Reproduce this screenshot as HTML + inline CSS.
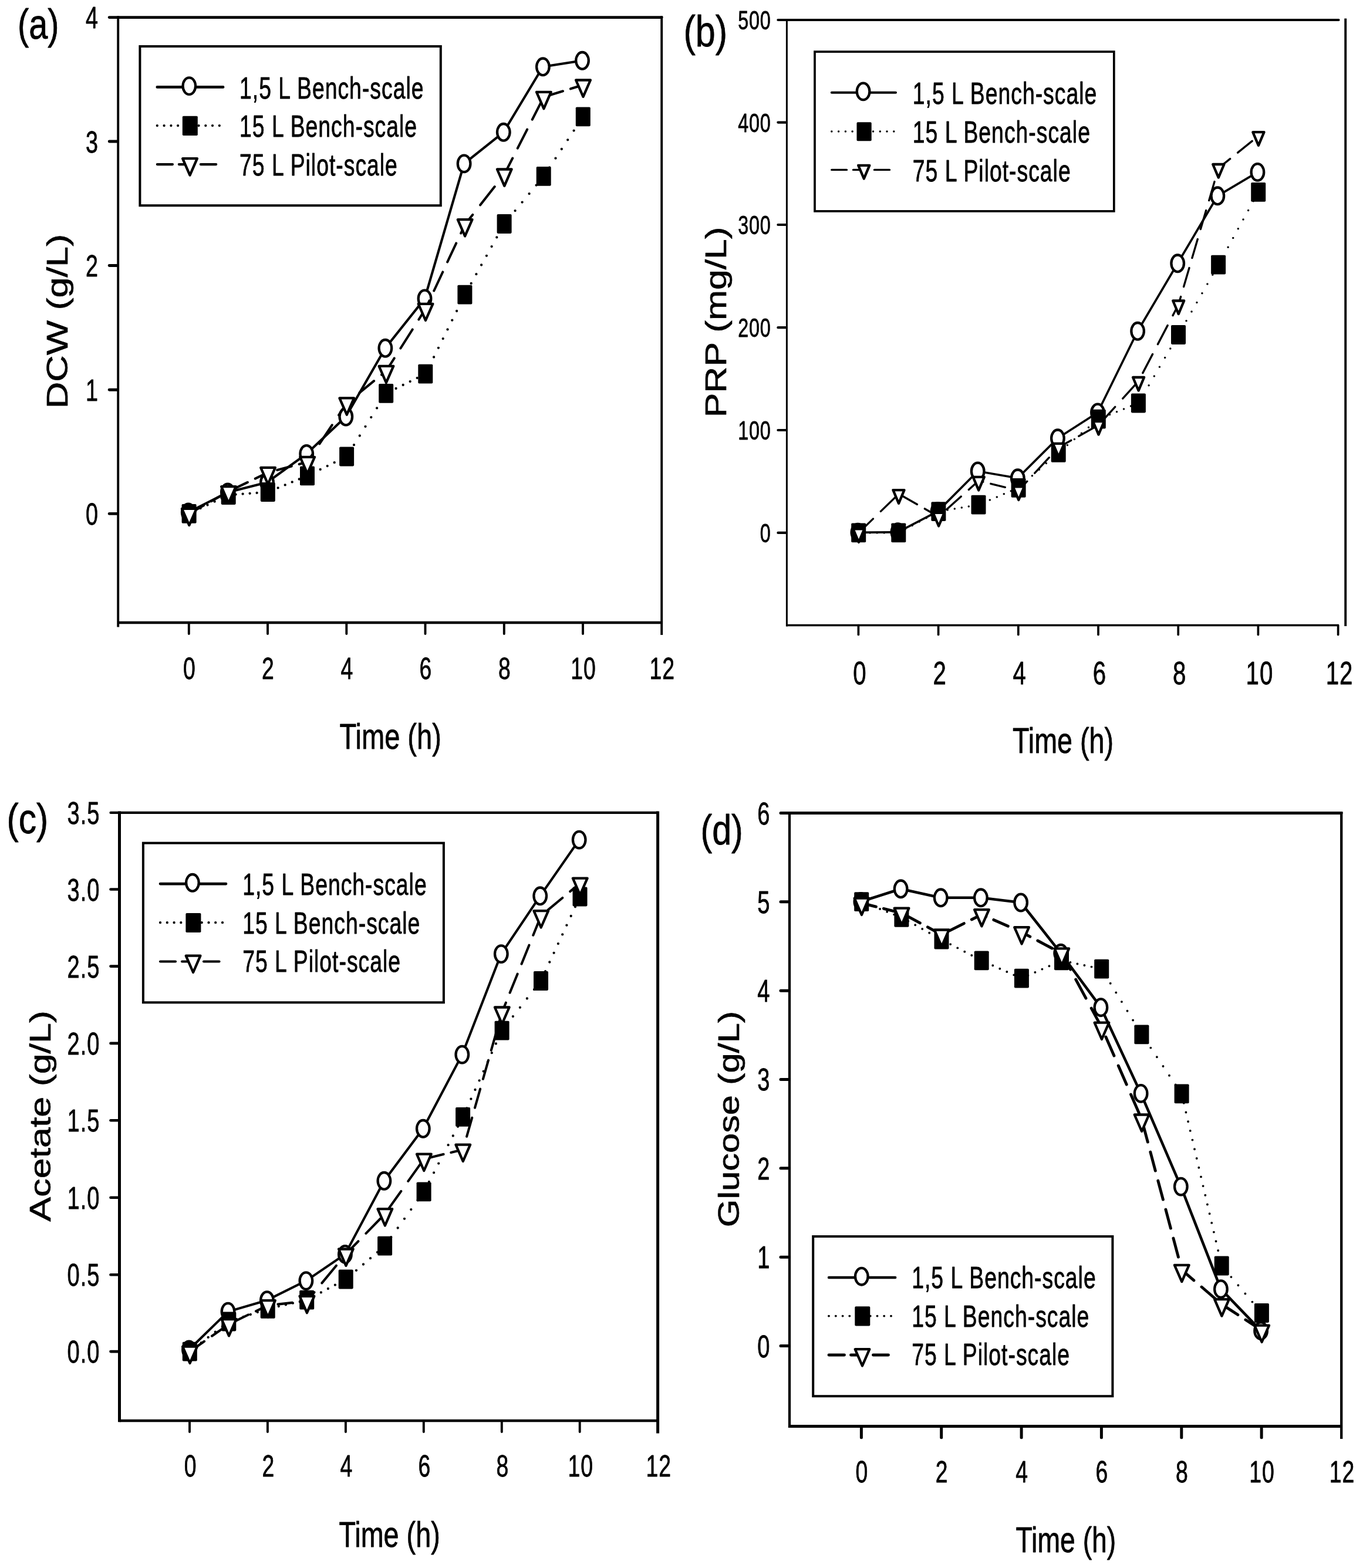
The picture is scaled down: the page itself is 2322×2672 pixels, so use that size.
<!DOCTYPE html>
<html lang="en"><head><meta charset="utf-8"><title>Fermentation scale-up profiles</title>
<style>html,body{margin:0;padding:0;background:#fff}svg{display:block}text{font-family:"Liberation Sans", Arial, Helvetica, sans-serif;fill:#000;stroke:#000;stroke-width:0.8px;stroke-linejoin:round}</style>
</head><body>
<svg width="2322" height="2672" viewBox="0 0 2322 2672" shape-rendering="geometricPrecision">
<rect x="0" y="0" width="2322" height="2672" fill="#fff"/>
<g>
<g stroke="#000" fill="none">
<line x1="201.2" y1="27.2" x2="201.2" y2="1068.5" stroke-width="3.9" stroke-linecap="butt"/>
<line x1="1127.2" y1="27.2" x2="1127.2" y2="1082" stroke-width="3.9" stroke-linecap="butt"/>
<line x1="186.2" y1="29.6" x2="1127.2" y2="29.6" stroke-width="4.9" stroke-linecap="round"/>
<line x1="201.2" y1="1061" x2="1127.2" y2="1061" stroke-width="4.4" stroke-linecap="butt"/>
<path d="M186.2 241H200.4" stroke-width="4.9" stroke-linecap="round"/>
<path d="M186.2 452.5H200.4" stroke-width="4.9" stroke-linecap="round"/>
<path d="M186.2 664.3H200.4" stroke-width="4.9" stroke-linecap="round"/>
<path d="M186.2 875.4H200.4" stroke-width="4.9" stroke-linecap="round"/>
<path d="M321.8 1061V1080" stroke-width="3.9" stroke-linecap="round"/>
<path d="M456 1061V1080" stroke-width="3.9" stroke-linecap="round"/>
<path d="M590.3 1061V1080" stroke-width="3.9" stroke-linecap="round"/>
<path d="M724.5 1061V1080" stroke-width="3.9" stroke-linecap="round"/>
<path d="M858.8 1061V1080" stroke-width="3.9" stroke-linecap="round"/>
<path d="M993 1061V1080" stroke-width="3.9" stroke-linecap="round"/>
</g>
<g>
<text transform="translate(168,48.4) scale(0.718,1)" font-size="52.5" text-anchor="end" letter-spacing="1.4">4</text>
<text transform="translate(168,259.8) scale(0.718,1)" font-size="52.5" text-anchor="end" letter-spacing="1.4">3</text>
<text transform="translate(168,471.3) scale(0.718,1)" font-size="52.5" text-anchor="end" letter-spacing="1.4">2</text>
<text transform="translate(168,683.1) scale(0.718,1)" font-size="52.5" text-anchor="end" letter-spacing="1.4">1</text>
<text transform="translate(168,894.2) scale(0.718,1)" font-size="52.5" text-anchor="end" letter-spacing="1.4">0</text>
<text transform="translate(322.8,1157) scale(0.718,1)" font-size="52" text-anchor="middle" letter-spacing="1.4">0</text>
<text transform="translate(457,1157) scale(0.718,1)" font-size="52" text-anchor="middle" letter-spacing="1.4">2</text>
<text transform="translate(591.3,1157) scale(0.718,1)" font-size="52" text-anchor="middle" letter-spacing="1.4">4</text>
<text transform="translate(725.5,1157) scale(0.718,1)" font-size="52" text-anchor="middle" letter-spacing="1.4">6</text>
<text transform="translate(859.8,1157) scale(0.718,1)" font-size="52" text-anchor="middle" letter-spacing="1.4">8</text>
<text transform="translate(994,1157) scale(0.718,1)" font-size="52" text-anchor="middle" letter-spacing="1.4">10</text>
<text transform="translate(1128.2,1157) scale(0.718,1)" font-size="52" text-anchor="middle" letter-spacing="1.4">12</text>
<text transform="translate(578.5,1276) scale(0.765,1)" font-size="61.5" text-anchor="start">Time (h)</text>
<text transform="translate(115.3,547.6) scale(0.78,1) rotate(-90)" font-size="63" text-anchor="middle" xml:space="preserve">DCW (g/L)</text>
<text transform="translate(30,66) scale(0.8,1)" font-size="72" text-anchor="start">(a)</text>
</g>
<g stroke="#000" fill="none">
<polyline points="320.8,873 387.9,839 455,822 522.2,773.4 589.3,710 656.4,593.3 723.5,508.9 790.6,278.9 857.8,225.3 924.9,113.8 992,103.3" fill="none" stroke-width="4.1" stroke-linejoin="round" stroke-linecap="round"/>
<ellipse cx="320.8" cy="873" rx="10.8" ry="14.3" fill="#fff" stroke-width="4.3"/>
<ellipse cx="387.9" cy="839" rx="10.8" ry="14.3" fill="#fff" stroke-width="4.3"/>
<ellipse cx="455" cy="822" rx="10.8" ry="14.3" fill="#fff" stroke-width="4.3"/>
<ellipse cx="522.2" cy="773.4" rx="10.8" ry="14.3" fill="#fff" stroke-width="4.3"/>
<ellipse cx="589.3" cy="710" rx="10.8" ry="14.3" fill="#fff" stroke-width="4.3"/>
<ellipse cx="656.4" cy="593.3" rx="10.8" ry="14.3" fill="#fff" stroke-width="4.3"/>
<ellipse cx="723.5" cy="508.9" rx="10.8" ry="14.3" fill="#fff" stroke-width="4.3"/>
<ellipse cx="790.6" cy="278.9" rx="10.8" ry="14.3" fill="#fff" stroke-width="4.3"/>
<ellipse cx="857.8" cy="225.3" rx="10.8" ry="14.3" fill="#fff" stroke-width="4.3"/>
<ellipse cx="924.9" cy="113.8" rx="10.8" ry="14.3" fill="#fff" stroke-width="4.3"/>
<ellipse cx="992" cy="103.3" rx="10.8" ry="14.3" fill="#fff" stroke-width="4.3"/>
<path d="M329.5 871.9h0M341.5 866.2h0M353.5 860.5h0M365.6 854.7h0M377.6 849h0M389.6 843.5h0M401.6 842.6h0M413.6 841.7h0M425.6 840.8h0M437.6 839.9h0M449.6 839h0M461.6 836.3h0M473.6 831.4h0M485.7 826.4h0M497.7 821.4h0M509.7 816.5h0M521.7 811.5h0M533.7 805.8h0M545.7 799.9h0M557.7 794.1h0M569.7 788.2h0M581.7 782.3h0M593.2 773.9h0M603 758.2h0M612.8 742.5h0M622.5 726.8h0M632.3 711.1h0M642.1 695.4h0M651.9 679.7h0M662.6 668h0M674.6 662h0M686.7 656h0M698.7 650.1h0M710.7 644.1h0M722.7 638.2h0M731.2 624.2h0M739.1 608.5h0M746.9 592.8h0M754.7 577.1h0M762.5 561.4h0M770.3 545.7h0M778.1 530h0M785.9 514.3h0M793.9 498.6h0M802.7 482.9h0M811.4 467.2h0M820.1 451.5h0M828.9 435.8h0M837.6 420.1h0M846.3 404.4h0M855.1 388.7h0M865.6 373.6h0M877.6 359.1h0M889.6 344.6h0M901.6 330.1h0M913.6 315.6h0M925.6 301.1h0M936.1 285.4h0M946.5 269.7h0M956.8 254h0M967.2 238.3h0M977.6 222.6h0M988 206.9h0" fill="none" stroke-width="4.3" stroke-linecap="round"/>
<rect x="309.6" y="859" width="25" height="32.8" rx="1.8" fill="#000" stroke="none"/>
<rect x="376.7" y="827.1" width="25" height="32.8" rx="1.8" fill="#000" stroke="none"/>
<rect x="443.8" y="822.1" width="25" height="32.8" rx="1.8" fill="#000" stroke="none"/>
<rect x="511" y="794.4" width="25" height="32.8" rx="1.8" fill="#000" stroke="none"/>
<rect x="578.1" y="761.6" width="25" height="32.8" rx="1.8" fill="#000" stroke="none"/>
<rect x="645.2" y="654" width="25" height="32.8" rx="1.8" fill="#000" stroke="none"/>
<rect x="712.3" y="620.7" width="25" height="32.8" rx="1.8" fill="#000" stroke="none"/>
<rect x="779.4" y="485.8" width="25" height="32.8" rx="1.8" fill="#000" stroke="none"/>
<rect x="846.6" y="365.1" width="25" height="32.8" rx="1.8" fill="#000" stroke="none"/>
<rect x="913.7" y="284" width="25" height="32.8" rx="1.8" fill="#000" stroke="none"/>
<rect x="980.8" y="182.5" width="25" height="32.8" rx="1.8" fill="#000" stroke="none"/>
<path d="M322.3 875.2L346.8 861.5M359.8 854.1L384.3 840.4M397.3 833.7L421.8 821.9M434.8 815.7L456.5 805.2M456.5 805.2L459.2 804.5M472.2 801L496.7 794.4M509.7 790.9L523.7 787.1M523.7 787.1L532.9 773.3M544.3 756.3L565.7 724.3M577.1 707.3L590.8 686.8M590.8 686.8L599.6 679.7M612.6 669.1L637.1 649.2M650.1 638.6L657.9 632.2M657.9 632.2L671.7 610.5M682.4 593.5L702.7 561.5M713.4 544.5L725 526.1M725 526.1L731.4 512.5M739.3 495.5L754.3 463.5M762.2 446.5L777.2 414.5M785.2 397.5L792.1 382.5M792.1 382.5L805.2 365.9M818.2 349.3L842.7 318.1M855.7 301.5L859.3 296.9M859.3 296.9L873.2 269.6M881.8 252.6L898.1 220.6M906.8 203.6L923.1 171.6M934.5 162.7L959 155.3M972 151.3L993.5 144.8" fill="none" stroke-width="4.1" stroke-linecap="round"/>
<path d="M309.9 866.9L334.7 866.9L322.3 895.1Z" fill="#fff" stroke-width="4.3" stroke-linejoin="round"/>
<path d="M377.1 829.1L401.8 829.1L389.4 857.4Z" fill="#fff" stroke-width="4.3" stroke-linejoin="round"/>
<path d="M444.2 796.9L468.9 796.9L456.5 825.1Z" fill="#fff" stroke-width="4.3" stroke-linejoin="round"/>
<path d="M511.3 778.8L536 778.8L523.7 807Z" fill="#fff" stroke-width="4.3" stroke-linejoin="round"/>
<path d="M578.4 678.4L603.1 678.4L590.8 706.7Z" fill="#fff" stroke-width="4.3" stroke-linejoin="round"/>
<path d="M645.6 623.9L670.3 623.9L657.9 652.1Z" fill="#fff" stroke-width="4.3" stroke-linejoin="round"/>
<path d="M712.7 517.8L737.4 517.8L725 546Z" fill="#fff" stroke-width="4.3" stroke-linejoin="round"/>
<path d="M779.8 374.1L804.5 374.1L792.1 402.4Z" fill="#fff" stroke-width="4.3" stroke-linejoin="round"/>
<path d="M846.9 288.5L871.6 288.5L859.3 316.8Z" fill="#fff" stroke-width="4.3" stroke-linejoin="round"/>
<path d="M914 156.8L938.7 156.8L926.4 185.2Z" fill="#fff" stroke-width="4.3" stroke-linejoin="round"/>
<path d="M981.1 136.5L1005.9 136.5L993.5 164.8Z" fill="#fff" stroke-width="4.3" stroke-linejoin="round"/>
</g>
<g stroke="#000" fill="none">
<rect x="238.4" y="79" width="512.4" height="271.2" fill="#fff" stroke-width="4"/>
<line x1="267.8" y1="148.4" x2="380.1" y2="148.4" stroke-width="4.6" stroke-linecap="round"/>
<ellipse cx="322.3" cy="146.6" rx="10.8" ry="14.3" fill="#fff" stroke-width="4.3"/>
<path d="M267.8 214.1h0M279.6 214.1h0M291.4 214.1h0M303.1 214.1h0M314.9 214.1h0M326.7 214.1h0M338.5 214.1h0M350.3 214.1h0M362 214.1h0M373.8 214.1h0" fill="none" stroke-width="4.3" stroke-linecap="round"/>
<rect x="310.8" y="197.8" width="26" height="33.2" rx="1.8" fill="#000" stroke="none"/>
<line x1="267.8" y1="280.1" x2="294" y2="280.1" stroke-width="4.1" stroke-linecap="round"/>
<line x1="304.8" y1="280.1" x2="316" y2="280.1" stroke-width="4.1" stroke-linecap="round"/>
<line x1="341.8" y1="280.1" x2="368.2" y2="280.1" stroke-width="4.1" stroke-linecap="round"/>
<path d="M311.1 270.2L335.9 270.2L323.5 298.6Z" fill="#fff" stroke-width="4.3" stroke-linejoin="round"/>
</g>
<g>
<text transform="translate(408,167.6) scale(0.718,1)" font-size="52" text-anchor="start" letter-spacing="1.4">1,5 L Bench-scale</text>
<text transform="translate(408,233.3) scale(0.718,1)" font-size="52" text-anchor="start" letter-spacing="1.4">15 L Bench-scale</text>
<text transform="translate(408,299.3) scale(0.718,1)" font-size="52" text-anchor="start" letter-spacing="1.4">75 L Pilot-scale</text>
</g>
</g>
<g>
<g stroke="#000" fill="none">
<line x1="1340.4" y1="31.9" x2="1340.4" y2="1067.6" stroke-width="3" stroke-linecap="butt"/>
<line x1="2292.2" y1="31.5" x2="2292.2" y2="1067" stroke-width="3.9" stroke-linecap="butt"/>
<line x1="1325.4" y1="34" x2="2280.5" y2="34" stroke-width="4.2" stroke-linecap="round"/>
<line x1="1340.4" y1="1065.5" x2="2280.5" y2="1065.5" stroke-width="3.6" stroke-linecap="butt"/>
<path d="M1325.4 208.6H1339.5" stroke-width="4.2" stroke-linecap="round"/>
<path d="M1325.4 383H1339.5" stroke-width="4.2" stroke-linecap="round"/>
<path d="M1325.4 558.2H1339.5" stroke-width="4.2" stroke-linecap="round"/>
<path d="M1325.4 733H1339.5" stroke-width="4.2" stroke-linecap="round"/>
<path d="M1325.4 907.9H1339.5" stroke-width="4.2" stroke-linecap="round"/>
<path d="M1462.4 1065.5V1081.5" stroke-width="3.7" stroke-linecap="round"/>
<path d="M1598.6 1065.5V1081.5" stroke-width="3.7" stroke-linecap="round"/>
<path d="M1734.8 1065.5V1081.5" stroke-width="3.7" stroke-linecap="round"/>
<path d="M1871 1065.5V1081.5" stroke-width="3.7" stroke-linecap="round"/>
<path d="M2007.2 1065.5V1081.5" stroke-width="3.7" stroke-linecap="round"/>
<path d="M2143.4 1065.5V1081.5" stroke-width="3.7" stroke-linecap="round"/>
<path d="M2279.6 1065.5V1081.5" stroke-width="3.7" stroke-linecap="round"/>
</g>
<g>
<text transform="translate(1313.7,50.1) scale(0.718,1)" font-size="45" text-anchor="end" letter-spacing="1.2">500</text>
<text transform="translate(1313.7,224.7) scale(0.718,1)" font-size="45" text-anchor="end" letter-spacing="1.2">400</text>
<text transform="translate(1313.7,399.1) scale(0.718,1)" font-size="45" text-anchor="end" letter-spacing="1.2">300</text>
<text transform="translate(1313.7,574.3) scale(0.718,1)" font-size="45" text-anchor="end" letter-spacing="1.2">200</text>
<text transform="translate(1313.7,749.1) scale(0.718,1)" font-size="45" text-anchor="end" letter-spacing="1.2">100</text>
<text transform="translate(1313.7,924) scale(0.718,1)" font-size="45" text-anchor="end" letter-spacing="1.2">0</text>
<text transform="translate(1464.9,1165.8) scale(0.718,1)" font-size="56" text-anchor="middle" letter-spacing="1.5">0</text>
<text transform="translate(1601.1,1165.8) scale(0.718,1)" font-size="56" text-anchor="middle" letter-spacing="1.5">2</text>
<text transform="translate(1737.3,1165.8) scale(0.718,1)" font-size="56" text-anchor="middle" letter-spacing="1.5">4</text>
<text transform="translate(1873.5,1165.8) scale(0.718,1)" font-size="56" text-anchor="middle" letter-spacing="1.5">6</text>
<text transform="translate(2009.7,1165.8) scale(0.718,1)" font-size="56" text-anchor="middle" letter-spacing="1.5">8</text>
<text transform="translate(2145.9,1165.8) scale(0.718,1)" font-size="56" text-anchor="middle" letter-spacing="1.5">10</text>
<text transform="translate(2282.1,1165.8) scale(0.718,1)" font-size="56" text-anchor="middle" letter-spacing="1.5">12</text>
<text transform="translate(1725,1282.9) scale(0.765,1)" font-size="61" text-anchor="start">Time (h)</text>
<text transform="translate(1236.8,548.9) scale(0.8,1) rotate(-90)" font-size="62.4" text-anchor="middle" xml:space="preserve">PRP (mg/L)</text>
<text transform="translate(1164.5,79) scale(0.82,1)" font-size="74.5" text-anchor="start">(b)</text>
</g>
<g stroke="#000" fill="none">
<polyline points="1461.4,907.3 1529.5,906.8 1597.6,871.4 1665.7,803 1733.8,814.8 1801.9,746.8 1870,703 1938.1,564.3 2006.2,448.8 2074.3,333.8 2142.4,293.4" fill="none" stroke-width="3.7" stroke-linejoin="round" stroke-linecap="round"/>
<ellipse cx="1461.4" cy="907.3" rx="10.8" ry="14.3" fill="#fff" stroke-width="4.3"/>
<ellipse cx="1529.5" cy="906.8" rx="10.8" ry="14.3" fill="#fff" stroke-width="4.3"/>
<ellipse cx="1597.6" cy="871.4" rx="10.8" ry="14.3" fill="#fff" stroke-width="4.3"/>
<ellipse cx="1665.7" cy="803" rx="10.8" ry="14.3" fill="#fff" stroke-width="4.3"/>
<ellipse cx="1733.8" cy="814.8" rx="10.8" ry="14.3" fill="#fff" stroke-width="4.3"/>
<ellipse cx="1801.9" cy="746.8" rx="10.8" ry="14.3" fill="#fff" stroke-width="4.3"/>
<ellipse cx="1870" cy="703" rx="10.8" ry="14.3" fill="#fff" stroke-width="4.3"/>
<ellipse cx="1938.1" cy="564.3" rx="10.8" ry="14.3" fill="#fff" stroke-width="4.3"/>
<ellipse cx="2006.2" cy="448.8" rx="10.8" ry="14.3" fill="#fff" stroke-width="4.3"/>
<ellipse cx="2074.3" cy="333.8" rx="10.8" ry="14.3" fill="#fff" stroke-width="4.3"/>
<ellipse cx="2142.4" cy="293.4" rx="10.8" ry="14.3" fill="#fff" stroke-width="4.3"/>
<path d="M1470.1 907.9h0M1482.1 907.9h0M1494.1 907.9h0M1506.2 907.9h0M1518.2 907.9h0M1530.2 907.9h0M1542.2 901.8h0M1554.2 895.5h0M1566.2 889.1h0M1578.2 882.7h0M1590.2 876.3h0M1602.2 871.1h0M1614.2 869.1h0M1626.3 867h0M1638.3 865h0M1650.3 862.9h0M1662.3 860.9h0M1674.3 857h0M1686.3 851.9h0M1698.3 846.9h0M1710.3 841.8h0M1722.3 836.7h0M1734.4 831.6h0M1746.4 821.4h0M1758.4 810.8h0M1770.4 800.2h0M1782.4 789.6h0M1794.4 779h0M1806.4 768.6h0M1818.4 758.5h0M1830.4 748.4h0M1842.4 738.3h0M1854.5 728.2h0M1866.5 718.2h0M1878.5 711.2h0M1890.5 706.5h0M1902.5 701.7h0M1914.5 696.9h0M1926.5 692.1h0M1938.5 687.3h0M1947.9 672.4h0M1957.1 656.7h0M1966.3 641h0M1975.4 625.3h0M1984.6 609.6h0M1993.8 593.9h0M2003 578.2h0M2012 562.5h0M2021 546.8h0M2030 531.1h0M2038.9 515.4h0M2047.9 499.7h0M2056.9 484h0M2065.8 468.3h0M2074.8 452.6h0M2083.4 436.9h0M2092.1 421.2h0M2100.7 405.5h0M2109.3 389.8h0M2118 374.1h0M2126.6 358.4h0M2135.2 342.7h0" fill="none" stroke-width="3.5" stroke-linecap="round"/>
<rect x="1450.2" y="891.5" width="25" height="32.8" rx="1.8" fill="#000" stroke="none"/>
<rect x="1518.3" y="891.5" width="25" height="32.8" rx="1.8" fill="#000" stroke="none"/>
<rect x="1586.4" y="855.3" width="25" height="32.8" rx="1.8" fill="#000" stroke="none"/>
<rect x="1654.5" y="843.7" width="25" height="32.8" rx="1.8" fill="#000" stroke="none"/>
<rect x="1722.6" y="814.9" width="25" height="32.8" rx="1.8" fill="#000" stroke="none"/>
<rect x="1790.7" y="754.9" width="25" height="32.8" rx="1.8" fill="#000" stroke="none"/>
<rect x="1858.8" y="697.7" width="25" height="32.8" rx="1.8" fill="#000" stroke="none"/>
<rect x="1926.9" y="670.6" width="25" height="32.8" rx="1.8" fill="#000" stroke="none"/>
<rect x="1995" y="554.1" width="25" height="32.8" rx="1.8" fill="#000" stroke="none"/>
<rect x="2063.1" y="434.8" width="25" height="32.8" rx="1.8" fill="#000" stroke="none"/>
<rect x="2131.2" y="310.9" width="25" height="32.8" rx="1.8" fill="#000" stroke="none"/>
<path d="M1462.9 907.9L1487.4 884.1M1500.4 871.4L1524.9 847.6M1537.9 845.5L1562.4 859.5M1575.4 866.9L1599.1 880.4M1599.1 880.4L1599.8 879.7M1612.8 868.1L1637.3 846.1M1650.3 834.4L1667.2 819.2M1667.2 819.2L1674.8 821.1M1687.8 824.3L1712.3 830.3M1725.3 833.4L1735.3 835.9M1735.3 835.9L1749.8 820.2M1762.8 806.2L1787.3 779.7M1800.3 765.6L1803.4 762.2M1803.4 762.2L1824.7 750.4M1837.8 743.2L1862.2 729.6M1875.2 720.4L1899.7 693.4M1912.7 679.1L1937.2 652.1M1946.8 635.6L1963.5 603.6M1972.4 586.6L1989.1 554.6M1998 537.6L2007.7 519M2007.7 519L2011.6 505.6M2016.6 488.6L2026 456.6M2030.9 439.6L2040.3 407.6M2045.3 390.6L2054.7 358.6M2059.7 341.6L2069 309.6M2074 292.6L2075.8 286.5M2075.8 286.5L2095.6 270.6M2108.6 260.1L2133.1 240.4" fill="none" stroke-width="3.4" stroke-linecap="round"/>
<path d="M1453.4 901.4L1472.5 901.4L1462.9 924Z" fill="#fff" stroke-width="4.3" stroke-linejoin="round"/>
<path d="M1521.5 835.1L1540.5 835.1L1531 857.8Z" fill="#fff" stroke-width="4.3" stroke-linejoin="round"/>
<path d="M1589.6 873.9L1608.7 873.9L1599.1 896.5Z" fill="#fff" stroke-width="4.3" stroke-linejoin="round"/>
<path d="M1657.7 812.8L1676.8 812.8L1667.2 835.4Z" fill="#fff" stroke-width="4.3" stroke-linejoin="round"/>
<path d="M1725.8 829.4L1744.9 829.4L1735.3 852Z" fill="#fff" stroke-width="4.3" stroke-linejoin="round"/>
<path d="M1793.9 755.8L1813 755.8L1803.4 778.4Z" fill="#fff" stroke-width="4.3" stroke-linejoin="round"/>
<path d="M1862 718L1881 718L1871.5 740.6Z" fill="#fff" stroke-width="4.3" stroke-linejoin="round"/>
<path d="M1930 643L1949.1 643L1939.6 665.6Z" fill="#fff" stroke-width="4.3" stroke-linejoin="round"/>
<path d="M1998.2 512.5L2017.2 512.5L2007.7 535.1Z" fill="#fff" stroke-width="4.3" stroke-linejoin="round"/>
<path d="M2066.2 280L2085.4 280L2075.8 302.6Z" fill="#fff" stroke-width="4.3" stroke-linejoin="round"/>
<path d="M2134.3 225.2L2153.5 225.2L2143.9 247.8Z" fill="#fff" stroke-width="4.3" stroke-linejoin="round"/>
</g>
<g stroke="#000" fill="none">
<rect x="1388" y="88.1" width="509.8" height="271.8" fill="#fff" stroke-width="3.7"/>
<line x1="1416.8" y1="157.7" x2="1526" y2="157.7" stroke-width="4" stroke-linecap="round"/>
<ellipse cx="1470.6" cy="155.9" rx="10.8" ry="14.3" fill="#fff" stroke-width="4.3"/>
<path d="M1416.8 223.9h0M1428.6 223.9h0M1440.4 223.9h0M1452.1 223.9h0M1463.9 223.9h0M1475.7 223.9h0M1487.5 223.9h0M1499.3 223.9h0M1511 223.9h0M1522.8 223.9h0" fill="none" stroke-width="3.5" stroke-linecap="round"/>
<rect x="1459.5" y="208.2" width="25.2" height="32" rx="1.8" fill="#000" stroke="none"/>
<line x1="1416.8" y1="289.4" x2="1442.5" y2="289.4" stroke-width="3.4" stroke-linecap="round"/>
<line x1="1453.5" y1="289.4" x2="1465" y2="289.4" stroke-width="3.4" stroke-linecap="round"/>
<line x1="1489.5" y1="289.4" x2="1515.5" y2="289.4" stroke-width="3.4" stroke-linecap="round"/>
<path d="M1462.2 281.8L1481.3 281.8L1471.8 304.4Z" fill="#fff" stroke-width="4.3" stroke-linejoin="round"/>
</g>
<g>
<text transform="translate(1554.8,176.9) scale(0.718,1)" font-size="52" text-anchor="start" letter-spacing="1.4">1,5 L Bench-scale</text>
<text transform="translate(1554.8,243.4) scale(0.718,1)" font-size="52" text-anchor="start" letter-spacing="1.4">15 L Bench-scale</text>
<text transform="translate(1554.8,308.6) scale(0.718,1)" font-size="52" text-anchor="start" letter-spacing="1.4">75 L Pilot-scale</text>
</g>
</g>
<g>
<g stroke="#000" fill="none">
<line x1="203.5" y1="1382.6" x2="203.5" y2="2423.3" stroke-width="5" stroke-linecap="butt"/>
<line x1="1120.6" y1="1382.6" x2="1120.6" y2="2442.5" stroke-width="5" stroke-linecap="butt"/>
<line x1="188.5" y1="1384.9" x2="1120.6" y2="1384.9" stroke-width="4.2" stroke-linecap="round"/>
<line x1="203.5" y1="2421" x2="1120.6" y2="2421" stroke-width="4.3" stroke-linecap="butt"/>
<path d="M188.5 1515.5H203.4" stroke-width="4.6" stroke-linecap="round"/>
<path d="M188.5 1646.6H203.4" stroke-width="4.6" stroke-linecap="round"/>
<path d="M188.5 1777.9H203.4" stroke-width="4.6" stroke-linecap="round"/>
<path d="M188.5 1909.2H203.4" stroke-width="4.6" stroke-linecap="round"/>
<path d="M188.5 2040.7H203.4" stroke-width="4.6" stroke-linecap="round"/>
<path d="M188.5 2172.2H203.4" stroke-width="4.6" stroke-linecap="round"/>
<path d="M188.5 2303.1H203.4" stroke-width="4.6" stroke-linecap="round"/>
<path d="M323 2421V2440" stroke-width="3.9" stroke-linecap="round"/>
<path d="M455.9 2421V2440" stroke-width="3.9" stroke-linecap="round"/>
<path d="M588.9 2421V2440" stroke-width="3.9" stroke-linecap="round"/>
<path d="M721.8 2421V2440" stroke-width="3.9" stroke-linecap="round"/>
<path d="M854.8 2421V2440" stroke-width="3.9" stroke-linecap="round"/>
<path d="M987.7 2421V2440" stroke-width="3.9" stroke-linecap="round"/>
</g>
<g>
<text transform="translate(170.5,1403.7) scale(0.718,1)" font-size="53" text-anchor="end" letter-spacing="1.4">3.5</text>
<text transform="translate(170.5,1534.5) scale(0.718,1)" font-size="53" text-anchor="end" letter-spacing="1.4">3.0</text>
<text transform="translate(170.5,1665.6) scale(0.718,1)" font-size="53" text-anchor="end" letter-spacing="1.4">2.5</text>
<text transform="translate(170.5,1796.9) scale(0.718,1)" font-size="53" text-anchor="end" letter-spacing="1.4">2.0</text>
<text transform="translate(170.5,1928.2) scale(0.718,1)" font-size="53" text-anchor="end" letter-spacing="1.4">1.5</text>
<text transform="translate(170.5,2059.7) scale(0.718,1)" font-size="53" text-anchor="end" letter-spacing="1.4">1.0</text>
<text transform="translate(170.5,2191.2) scale(0.718,1)" font-size="53" text-anchor="end" letter-spacing="1.4">0.5</text>
<text transform="translate(170.5,2322.1) scale(0.718,1)" font-size="53" text-anchor="end" letter-spacing="1.4">0.0</text>
<text transform="translate(324.6,2516.2) scale(0.718,1)" font-size="52" text-anchor="middle" letter-spacing="1.4">0</text>
<text transform="translate(457.5,2516.2) scale(0.718,1)" font-size="52" text-anchor="middle" letter-spacing="1.4">2</text>
<text transform="translate(590.5,2516.2) scale(0.718,1)" font-size="52" text-anchor="middle" letter-spacing="1.4">4</text>
<text transform="translate(723.4,2516.2) scale(0.718,1)" font-size="52" text-anchor="middle" letter-spacing="1.4">6</text>
<text transform="translate(856.4,2516.2) scale(0.718,1)" font-size="52" text-anchor="middle" letter-spacing="1.4">8</text>
<text transform="translate(989.3,2516.2) scale(0.718,1)" font-size="52" text-anchor="middle" letter-spacing="1.4">10</text>
<text transform="translate(1122.2,2516.2) scale(0.718,1)" font-size="52" text-anchor="middle" letter-spacing="1.4">12</text>
<text transform="translate(577.5,2636.3) scale(0.76,1)" font-size="61.5" text-anchor="start">Time (h)</text>
<text transform="translate(86,1901.9) scale(0.8,1) rotate(-90)" font-size="62.8" text-anchor="middle" xml:space="preserve">Acetate (g/L)</text>
<text transform="translate(11.5,1420) scale(0.83,1)" font-size="73" text-anchor="start">(c)</text>
</g>
<g stroke="#000" fill="none">
<polyline points="322,2300 388.5,2235.1 454.9,2215.7 521.4,2182.6 587.9,2137.4 654.4,2012.3 720.8,1923.3 787.3,1797.1 853.8,1625.6 920.2,1526.8 986.7,1431.1" fill="none" stroke-width="4.1" stroke-linejoin="round" stroke-linecap="round"/>
<ellipse cx="322" cy="2300" rx="10.8" ry="14.3" fill="#fff" stroke-width="4.3"/>
<ellipse cx="388.5" cy="2235.1" rx="10.8" ry="14.3" fill="#fff" stroke-width="4.3"/>
<ellipse cx="454.9" cy="2215.7" rx="10.8" ry="14.3" fill="#fff" stroke-width="4.3"/>
<ellipse cx="521.4" cy="2182.6" rx="10.8" ry="14.3" fill="#fff" stroke-width="4.3"/>
<ellipse cx="587.9" cy="2137.4" rx="10.8" ry="14.3" fill="#fff" stroke-width="4.3"/>
<ellipse cx="654.4" cy="2012.3" rx="10.8" ry="14.3" fill="#fff" stroke-width="4.3"/>
<ellipse cx="720.8" cy="1923.3" rx="10.8" ry="14.3" fill="#fff" stroke-width="4.3"/>
<ellipse cx="787.3" cy="1797.1" rx="10.8" ry="14.3" fill="#fff" stroke-width="4.3"/>
<ellipse cx="853.8" cy="1625.6" rx="10.8" ry="14.3" fill="#fff" stroke-width="4.3"/>
<ellipse cx="920.2" cy="1526.8" rx="10.8" ry="14.3" fill="#fff" stroke-width="4.3"/>
<ellipse cx="986.7" cy="1431.1" rx="10.8" ry="14.3" fill="#fff" stroke-width="4.3"/>
<path d="M330.7 2297.4h0M342.7 2288.2h0M354.7 2278.9h0M366.8 2269.7h0M378.8 2260.5h0M390.8 2251.7h0M402.8 2247.8h0M414.8 2243.9h0M426.8 2240h0M438.8 2236.1h0M450.8 2232.2h0M462.8 2228.9h0M474.8 2226.1h0M486.9 2223.4h0M498.9 2220.7h0M510.9 2217.9h0M522.9 2215.1h0M534.9 2208.7h0M546.9 2202.4h0M558.9 2196h0M570.9 2189.7h0M582.9 2183.3h0M595 2175.1h0M607 2164.8h0M619 2154.5h0M631 2144.2h0M643 2133.9h0M655 2123.7h0M666.3 2108.2h0M677.7 2092.5h0M689 2076.8h0M700.3 2061.1h0M711.6 2045.4h0M722.7 2029.7h0M730.9 2014h0M739.1 1998.3h0M747.2 1982.6h0M755.4 1966.9h0M763.6 1951.2h0M771.8 1935.5h0M780 1919.8h0M788.2 1904.1h0M795.3 1888.4h0M802.4 1872.7h0M809.5 1857h0M816.6 1841.3h0M823.7 1825.6h0M830.8 1809.9h0M837.8 1794.2h0M844.9 1778.5h0M852 1762.8h0M861.9 1747.4h0M873.9 1732.1h0M885.9 1716.8h0M897.9 1701.5h0M910 1686.2h0M921.8 1670.9h0M929.1 1655.2h0M936.3 1639.5h0M943.6 1623.8h0M950.9 1608.1h0M958.2 1592.4h0M965.4 1576.7h0M972.7 1561h0M980 1545.3h0M987.2 1529.6h0" fill="none" stroke-width="4.3" stroke-linecap="round"/>
<rect x="310.8" y="2286.7" width="25" height="32.8" rx="1.8" fill="#000" stroke="none"/>
<rect x="377.3" y="2235.6" width="25" height="32.8" rx="1.8" fill="#000" stroke="none"/>
<rect x="443.7" y="2214" width="25" height="32.8" rx="1.8" fill="#000" stroke="none"/>
<rect x="510.2" y="2198.8" width="25" height="32.8" rx="1.8" fill="#000" stroke="none"/>
<rect x="576.7" y="2163.6" width="25" height="32.8" rx="1.8" fill="#000" stroke="none"/>
<rect x="643.1" y="2106.7" width="25" height="32.8" rx="1.8" fill="#000" stroke="none"/>
<rect x="709.6" y="2014.4" width="25" height="32.8" rx="1.8" fill="#000" stroke="none"/>
<rect x="776.1" y="1887" width="25" height="32.8" rx="1.8" fill="#000" stroke="none"/>
<rect x="842.6" y="1739.7" width="25" height="32.8" rx="1.8" fill="#000" stroke="none"/>
<rect x="909" y="1655.1" width="25" height="32.8" rx="1.8" fill="#000" stroke="none"/>
<rect x="975.5" y="1511.6" width="25" height="32.8" rx="1.8" fill="#000" stroke="none"/>
<path d="M323.5 2303L348 2285.8M361 2276.7L385.5 2259.6M398.5 2252.3L422.9 2240.5M436 2234.3L456.4 2224.4M456.4 2224.4L460.4 2224M473.4 2222.6L497.9 2219.9M510.9 2218.5L522.9 2217.2M522.9 2217.2L535.4 2202.1M548.4 2186.4L572.9 2156.7M585.9 2141L589.4 2136.8M589.4 2136.8L610.4 2115.2M623.4 2101.9L647.9 2076.7M660.5 2061.9L683.3 2029.9M695.3 2012.9L718.1 1980.9M730.8 1973L755.3 1967M768.3 1963.9L788.8 1958.9M788.8 1958.9L790.3 1953.7M795.1 1936.7L804.2 1904.7M809 1887.7L818.1 1855.7M822.9 1838.7L832 1806.7M836.8 1789.7L845.9 1757.7M850.7 1740.7L855.3 1724.8M855.3 1724.8L861.8 1708.7M868.6 1691.7L881.6 1659.7M888.5 1642.7L901.4 1610.7M908.3 1593.7L921.2 1561.7M933.8 1550.4L958.3 1530M971.3 1519.1L988.2 1505" fill="none" stroke-width="4.1" stroke-linecap="round"/>
<path d="M311.1 2294.7L335.9 2294.7L323.5 2323Z" fill="#fff" stroke-width="4.3" stroke-linejoin="round"/>
<path d="M377.6 2248.1L402.3 2248.1L390 2276.4Z" fill="#fff" stroke-width="4.3" stroke-linejoin="round"/>
<path d="M444.1 2216.1L468.8 2216.1L456.4 2244.4Z" fill="#fff" stroke-width="4.3" stroke-linejoin="round"/>
<path d="M510.6 2208.8L535.3 2208.8L522.9 2237.2Z" fill="#fff" stroke-width="4.3" stroke-linejoin="round"/>
<path d="M577 2128.5L601.7 2128.5L589.4 2156.8Z" fill="#fff" stroke-width="4.3" stroke-linejoin="round"/>
<path d="M643.5 2060.2L668.2 2060.2L655.9 2088.5Z" fill="#fff" stroke-width="4.3" stroke-linejoin="round"/>
<path d="M710 1966.7L734.7 1966.7L722.3 1995Z" fill="#fff" stroke-width="4.3" stroke-linejoin="round"/>
<path d="M776.4 1950.6L801.1 1950.6L788.8 1978.9Z" fill="#fff" stroke-width="4.3" stroke-linejoin="round"/>
<path d="M842.9 1716.5L867.6 1716.5L855.3 1744.8Z" fill="#fff" stroke-width="4.3" stroke-linejoin="round"/>
<path d="M909.4 1552.2L934.1 1552.2L921.7 1580.5Z" fill="#fff" stroke-width="4.3" stroke-linejoin="round"/>
<path d="M975.9 1496.7L1000.6 1496.7L988.2 1525Z" fill="#fff" stroke-width="4.3" stroke-linejoin="round"/>
</g>
<g stroke="#000" fill="none">
<rect x="243.9" y="1436.6" width="512" height="271.7" fill="#fff" stroke-width="4"/>
<line x1="273" y1="1506.1" x2="385" y2="1506.1" stroke-width="4.6" stroke-linecap="round"/>
<ellipse cx="327.9" cy="1504.3" rx="10.8" ry="14.3" fill="#fff" stroke-width="4.3"/>
<path d="M273 1572.2h0M284.8 1572.2h0M296.6 1572.2h0M308.3 1572.2h0M320.1 1572.2h0M331.9 1572.2h0M343.7 1572.2h0M355.5 1572.2h0M367.2 1572.2h0M379 1572.2h0" fill="none" stroke-width="4.3" stroke-linecap="round"/>
<rect x="316.4" y="1555.9" width="26" height="33.2" rx="1.8" fill="#000" stroke="none"/>
<line x1="273" y1="1638.5" x2="299" y2="1638.5" stroke-width="4.1" stroke-linecap="round"/>
<line x1="310" y1="1638.5" x2="321" y2="1638.5" stroke-width="4.1" stroke-linecap="round"/>
<line x1="347" y1="1638.5" x2="373.5" y2="1638.5" stroke-width="4.1" stroke-linecap="round"/>
<path d="M316.7 1628.7L341.4 1628.7L329.1 1657Z" fill="#fff" stroke-width="4.3" stroke-linejoin="round"/>
</g>
<g>
<text transform="translate(413.2,1525.3) scale(0.718,1)" font-size="52" text-anchor="start" letter-spacing="1.4">1,5 L Bench-scale</text>
<text transform="translate(413.2,1591.4) scale(0.718,1)" font-size="52" text-anchor="start" letter-spacing="1.4">15 L Bench-scale</text>
<text transform="translate(413.2,1656.4) scale(0.718,1)" font-size="52" text-anchor="start" letter-spacing="1.4">75 L Pilot-scale</text>
</g>
</g>
<g>
<g stroke="#000" fill="none">
<line x1="1345" y1="1383" x2="1345" y2="2432.9" stroke-width="4.3" stroke-linecap="butt"/>
<line x1="2285.2" y1="1383" x2="2285.2" y2="2451.9" stroke-width="4.3" stroke-linecap="butt"/>
<line x1="1330" y1="1385.5" x2="2285.2" y2="1385.5" stroke-width="5" stroke-linecap="round"/>
<line x1="1345" y1="2430.4" x2="2285.2" y2="2430.4" stroke-width="5" stroke-linecap="butt"/>
<path d="M1330 1536.8H1344.4" stroke-width="5" stroke-linecap="round"/>
<path d="M1330 1688.2H1344.4" stroke-width="5" stroke-linecap="round"/>
<path d="M1330 1839.4H1344.4" stroke-width="5" stroke-linecap="round"/>
<path d="M1330 1990.8H1344.4" stroke-width="5" stroke-linecap="round"/>
<path d="M1330 2142.2H1344.4" stroke-width="5" stroke-linecap="round"/>
<path d="M1330 2293.5H1344.4" stroke-width="5" stroke-linecap="round"/>
<path d="M1467.4 2430.4V2449.8" stroke-width="5" stroke-linecap="round"/>
<path d="M1603.7 2430.4V2449.8" stroke-width="5" stroke-linecap="round"/>
<path d="M1740.1 2430.4V2449.8" stroke-width="5" stroke-linecap="round"/>
<path d="M1876.4 2430.4V2449.8" stroke-width="5" stroke-linecap="round"/>
<path d="M2012.8 2430.4V2449.8" stroke-width="5" stroke-linecap="round"/>
<path d="M2149.1 2430.4V2449.8" stroke-width="5" stroke-linecap="round"/>
</g>
<g>
<text transform="translate(1312.3,1404.5) scale(0.718,1)" font-size="53" text-anchor="end" letter-spacing="1.4">6</text>
<text transform="translate(1312.3,1555.8) scale(0.718,1)" font-size="53" text-anchor="end" letter-spacing="1.4">5</text>
<text transform="translate(1312.3,1707.2) scale(0.718,1)" font-size="53" text-anchor="end" letter-spacing="1.4">4</text>
<text transform="translate(1312.3,1858.4) scale(0.718,1)" font-size="53" text-anchor="end" letter-spacing="1.4">3</text>
<text transform="translate(1312.3,2009.8) scale(0.718,1)" font-size="53" text-anchor="end" letter-spacing="1.4">2</text>
<text transform="translate(1312.3,2161.2) scale(0.718,1)" font-size="53" text-anchor="end" letter-spacing="1.4">1</text>
<text transform="translate(1312.3,2312.5) scale(0.718,1)" font-size="53" text-anchor="end" letter-spacing="1.4">0</text>
<text transform="translate(1468.4,2526) scale(0.718,1)" font-size="52" text-anchor="middle" letter-spacing="1.4">0</text>
<text transform="translate(1604.7,2526) scale(0.718,1)" font-size="52" text-anchor="middle" letter-spacing="1.4">2</text>
<text transform="translate(1741.1,2526) scale(0.718,1)" font-size="52" text-anchor="middle" letter-spacing="1.4">4</text>
<text transform="translate(1877.4,2526) scale(0.718,1)" font-size="52" text-anchor="middle" letter-spacing="1.4">6</text>
<text transform="translate(2013.8,2526) scale(0.718,1)" font-size="52" text-anchor="middle" letter-spacing="1.4">8</text>
<text transform="translate(2150.1,2526) scale(0.718,1)" font-size="52" text-anchor="middle" letter-spacing="1.4">10</text>
<text transform="translate(2286.4,2526) scale(0.718,1)" font-size="52" text-anchor="middle" letter-spacing="1.4">12</text>
<text transform="translate(1730.5,2644.5) scale(0.76,1)" font-size="61" text-anchor="start">Time (h)</text>
<text transform="translate(1259.4,1907) scale(0.8,1) rotate(-90)" font-size="61.4" text-anchor="middle" xml:space="preserve">Glucose (g/L)</text>
<text transform="translate(1193.5,1439.4) scale(0.81,1)" font-size="73" text-anchor="start">(d)</text>
</g>
<g stroke="#000" fill="none">
<polyline points="1466.4,1536.5 1534.6,1514.8 1602.7,1529.8 1670.9,1529.8 1739.1,1538 1807.2,1624.3 1875.4,1716.7 1943.6,1863.4 2011.8,2022.1 2079.9,2196.7 2148.1,2267.7" fill="none" stroke-width="4.6" stroke-linejoin="round" stroke-linecap="round"/>
<ellipse cx="1466.4" cy="1536.5" rx="10.8" ry="14.3" fill="#fff" stroke-width="4.3"/>
<ellipse cx="1534.6" cy="1514.8" rx="10.8" ry="14.3" fill="#fff" stroke-width="4.3"/>
<ellipse cx="1602.7" cy="1529.8" rx="10.8" ry="14.3" fill="#fff" stroke-width="4.3"/>
<ellipse cx="1670.9" cy="1529.8" rx="10.8" ry="14.3" fill="#fff" stroke-width="4.3"/>
<ellipse cx="1739.1" cy="1538" rx="10.8" ry="14.3" fill="#fff" stroke-width="4.3"/>
<ellipse cx="1807.2" cy="1624.3" rx="10.8" ry="14.3" fill="#fff" stroke-width="4.3"/>
<ellipse cx="1875.4" cy="1716.7" rx="10.8" ry="14.3" fill="#fff" stroke-width="4.3"/>
<ellipse cx="1943.6" cy="1863.4" rx="10.8" ry="14.3" fill="#fff" stroke-width="4.3"/>
<ellipse cx="2011.8" cy="2022.1" rx="10.8" ry="14.3" fill="#fff" stroke-width="4.3"/>
<ellipse cx="2079.9" cy="2196.7" rx="10.8" ry="14.3" fill="#fff" stroke-width="4.3"/>
<ellipse cx="2148.1" cy="2267.7" rx="10.8" ry="14.3" fill="#fff" stroke-width="4.3"/>
<path d="M1475.1 1539.6h0M1487.1 1544.3h0M1499.1 1549h0M1511.2 1553.7h0M1523.2 1558.4h0M1535.2 1563.1h0M1547.2 1569.7h0M1559.2 1576.3h0M1571.2 1583h0M1583.2 1589.7h0M1595.2 1596.3h0M1607.2 1602.9h0M1619.2 1609.1h0M1631.3 1615.4h0M1643.3 1621.7h0M1655.3 1628h0M1667.3 1634.2h0M1679.3 1640h0M1691.3 1645.3h0M1703.3 1650.7h0M1715.3 1656h0M1727.3 1661.4h0M1739.4 1666.7h0M1751.4 1662.3h0M1763.4 1656.9h0M1775.4 1651.6h0M1787.4 1646.2h0M1799.4 1640.9h0M1811.4 1637.4h0M1823.4 1639.9h0M1835.4 1642.5h0M1847.4 1645h0M1859.5 1647.6h0M1871.5 1650.1h0M1882.1 1660h0M1891.7 1675.7h0M1901.3 1691.4h0M1910.9 1707.1h0M1920.5 1722.8h0M1930.1 1738.5h0M1939.7 1754.2h0M1949.7 1769.9h0M1960.3 1785.6h0M1970.9 1801.3h0M1981.5 1817h0M1992 1832.7h0M2002.6 1848.4h0M2013.1 1864.1h0M2016.8 1879.8h0M2020.4 1895.5h0M2024.1 1911.2h0M2027.7 1926.9h0M2031.4 1942.6h0M2035 1958.3h0M2038.7 1974h0M2042.3 1989.7h0M2046 2005.4h0M2049.6 2021.1h0M2053.3 2036.8h0M2056.9 2052.5h0M2060.6 2068.2h0M2064.2 2083.9h0M2067.9 2099.6h0M2071.5 2115.3h0M2075.2 2131h0M2078.8 2146.7h0M2085.4 2161.9h0M2097.4 2176.1h0M2109.4 2190.3h0M2121.4 2204.5h0M2133.4 2218.6h0M2145.4 2232.8h0" fill="none" stroke-width="3.9" stroke-linecap="round"/>
<rect x="1455.2" y="1520.3" width="25" height="32.8" rx="1.8" fill="#000" stroke="none"/>
<rect x="1523.4" y="1547" width="25" height="32.8" rx="1.8" fill="#000" stroke="none"/>
<rect x="1591.5" y="1584.8" width="25" height="32.8" rx="1.8" fill="#000" stroke="none"/>
<rect x="1659.7" y="1620.4" width="25" height="32.8" rx="1.8" fill="#000" stroke="none"/>
<rect x="1727.9" y="1650.8" width="25" height="32.8" rx="1.8" fill="#000" stroke="none"/>
<rect x="1796" y="1620.4" width="25" height="32.8" rx="1.8" fill="#000" stroke="none"/>
<rect x="1864.2" y="1634.8" width="25" height="32.8" rx="1.8" fill="#000" stroke="none"/>
<rect x="1932.4" y="1746.4" width="25" height="32.8" rx="1.8" fill="#000" stroke="none"/>
<rect x="2000.6" y="1847.5" width="25" height="32.8" rx="1.8" fill="#000" stroke="none"/>
<rect x="2068.7" y="2140.6" width="25" height="32.8" rx="1.8" fill="#000" stroke="none"/>
<rect x="2136.9" y="2221.1" width="25" height="32.8" rx="1.8" fill="#000" stroke="none"/>
<path d="M1467.9 1539L1492.4 1545.1M1505.4 1548.3L1529.9 1554.5M1542.9 1559.7L1567.4 1572.9M1580.4 1579.9L1604.2 1592.8M1604.2 1592.8L1604.8 1592.5M1617.8 1585.9L1642.3 1573.6M1655.3 1567L1672.4 1558.4M1672.4 1558.4L1679.8 1561.7M1692.8 1567.4L1717.3 1578.3M1730.3 1584L1740.6 1588.6M1740.6 1588.6L1754.8 1596.1M1767.8 1603L1792.3 1616M1805.3 1622.9L1808.8 1624.7M1808.8 1624.7L1823.6 1652.1M1832.7 1669.1L1850 1701.1M1859.2 1718.1L1876.5 1750.1M1883.9 1767.1L1897.9 1799.1M1905.2 1816.1L1919.2 1848.1M1926.5 1865.1L1940.5 1897.1M1946.8 1914.1L1955.3 1946.1M1959.8 1963.1L1968.3 1995.1M1972.8 2012.1L1981.4 2044.1M1985.9 2061.1L1994.4 2093.1M1998.9 2110.1L2007.4 2142.1M2011.9 2159.1L2013.3 2164.1M2013.3 2164.1L2033.9 2181.9M2047 2193L2071.4 2214M2084.4 2224.6L2108.9 2240.5M2121.9 2249L2146.4 2264.9" fill="none" stroke-width="4.9" stroke-linecap="round"/>
<path d="M1455.6 1530.7L1480.2 1530.7L1467.9 1559Z" fill="#fff" stroke-width="4.3" stroke-linejoin="round"/>
<path d="M1523.7 1547.7L1548.4 1547.7L1536.1 1576Z" fill="#fff" stroke-width="4.3" stroke-linejoin="round"/>
<path d="M1591.9 1584.5L1616.6 1584.5L1604.2 1612.8Z" fill="#fff" stroke-width="4.3" stroke-linejoin="round"/>
<path d="M1660.1 1550.1L1684.8 1550.1L1672.4 1578.4Z" fill="#fff" stroke-width="4.3" stroke-linejoin="round"/>
<path d="M1728.2 1580.2L1752.9 1580.2L1740.6 1608.5Z" fill="#fff" stroke-width="4.3" stroke-linejoin="round"/>
<path d="M1796.4 1616.4L1821.1 1616.4L1808.8 1644.7Z" fill="#fff" stroke-width="4.3" stroke-linejoin="round"/>
<path d="M1864.6 1742.7L1889.3 1742.7L1876.9 1771Z" fill="#fff" stroke-width="4.3" stroke-linejoin="round"/>
<path d="M1932.7 1899.5L1957.4 1899.5L1945.1 1927.8Z" fill="#fff" stroke-width="4.3" stroke-linejoin="round"/>
<path d="M2000.9 2155.8L2025.6 2155.8L2013.3 2184.1Z" fill="#fff" stroke-width="4.3" stroke-linejoin="round"/>
<path d="M2069.1 2214.2L2093.8 2214.2L2081.4 2242.6Z" fill="#fff" stroke-width="4.3" stroke-linejoin="round"/>
<path d="M2137.3 2258.7L2162 2258.7L2149.6 2287Z" fill="#fff" stroke-width="4.3" stroke-linejoin="round"/>
</g>
<g stroke="#000" fill="none">
<rect x="1385.2" y="2107" width="510.2" height="272.2" fill="#fff" stroke-width="4"/>
<line x1="1412" y1="2177" x2="1525.2" y2="2177" stroke-width="4.4" stroke-linecap="round"/>
<ellipse cx="1467.8" cy="2175.2" rx="10.8" ry="14.3" fill="#fff" stroke-width="4.3"/>
<path d="M1412 2242.6h0M1423.8 2242.6h0M1435.6 2242.6h0M1447.3 2242.6h0M1459.1 2242.6h0M1470.9 2242.6h0M1482.7 2242.6h0M1494.5 2242.6h0M1506.2 2242.6h0M1518 2242.6h0" fill="none" stroke-width="3.9" stroke-linecap="round"/>
<rect x="1456.3" y="2226.3" width="26" height="33.2" rx="1.8" fill="#000" stroke="none"/>
<line x1="1412" y1="2309" x2="1438.5" y2="2309" stroke-width="4.9" stroke-linecap="round"/>
<line x1="1449.5" y1="2309" x2="1461" y2="2309" stroke-width="4.9" stroke-linecap="round"/>
<line x1="1487.5" y1="2309" x2="1513.5" y2="2309" stroke-width="4.9" stroke-linecap="round"/>
<path d="M1456.7 2299.2L1481.3 2299.2L1469 2327.5Z" fill="#fff" stroke-width="4.3" stroke-linejoin="round"/>
</g>
<g>
<text transform="translate(1553.2,2195.3) scale(0.718,1)" font-size="52" text-anchor="start" letter-spacing="1.4">1,5 L Bench-scale</text>
<text transform="translate(1553.2,2261.1) scale(0.718,1)" font-size="52" text-anchor="start" letter-spacing="1.4">15 L Bench-scale</text>
<text transform="translate(1553.2,2326.2) scale(0.718,1)" font-size="52" text-anchor="start" letter-spacing="1.4">75 L Pilot-scale</text>
</g>
</g>
</svg></body></html>
